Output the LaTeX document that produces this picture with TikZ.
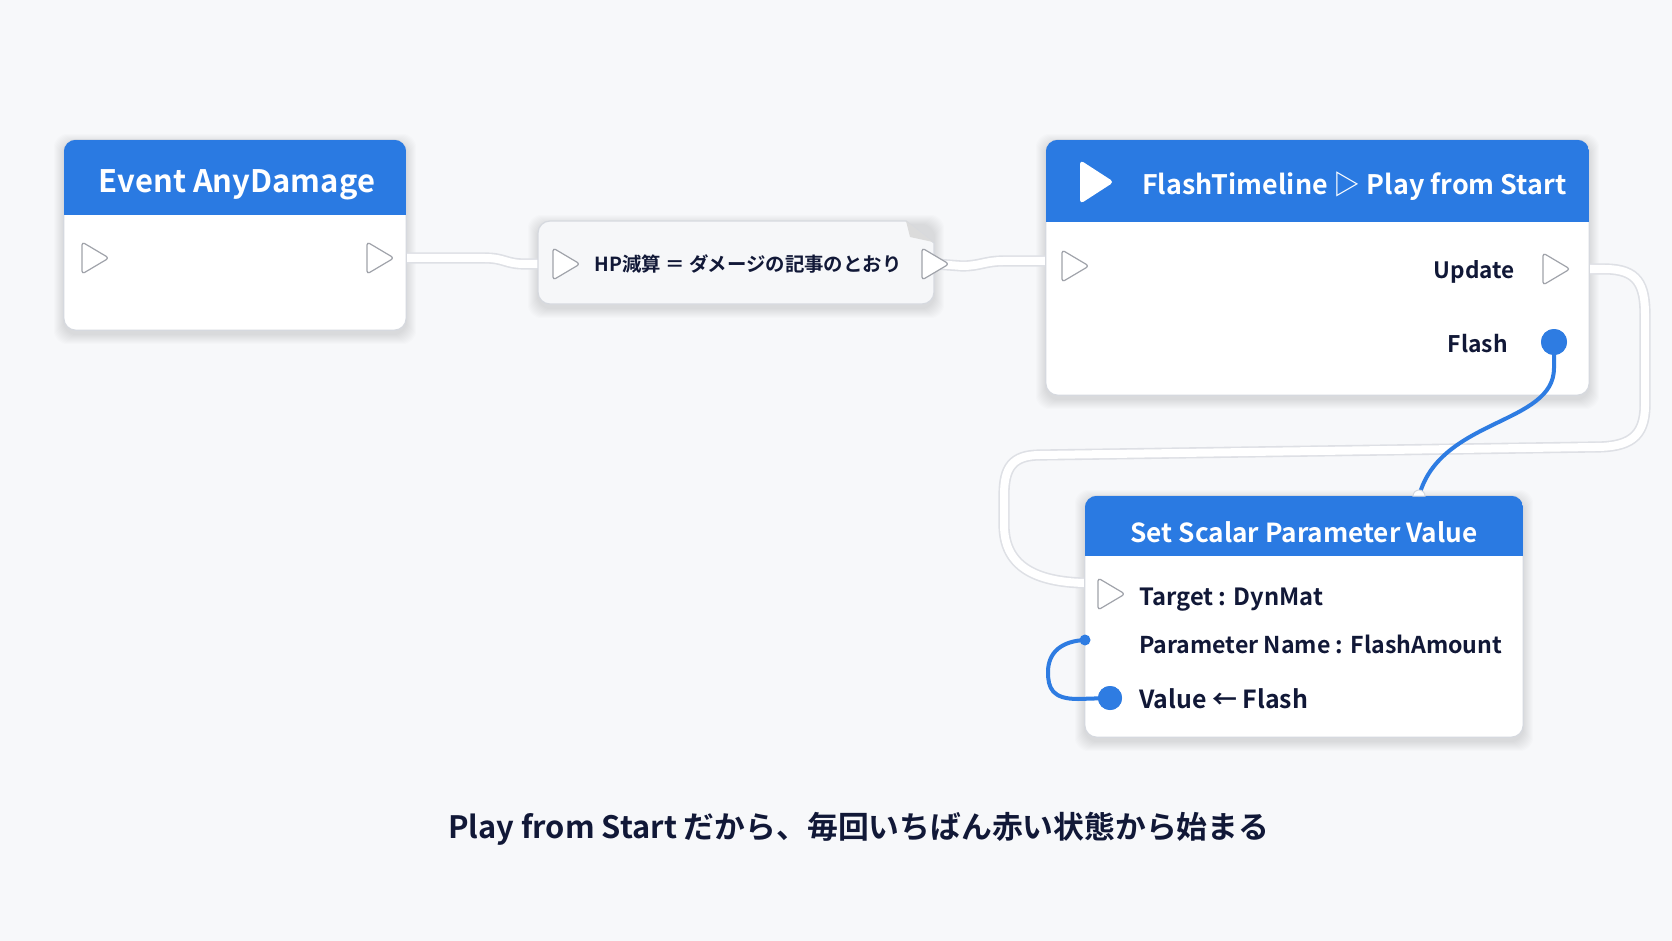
\documentclass[tikz,border=0pt]{standalone}
\usepackage{fontspec}
\setmainfont{Noto Sans CJK JP}[BoldFont={Noto Sans CJK JP Bold}]
\usepackage{graphicx}
\usetikzlibrary{calc,fit}
\definecolor{bgc}{RGB}{247,248,250}
\definecolor{hblue}{RGB}{42,122,226}
\definecolor{wblue}{RGB}{46,124,226}
\definecolor{ink}{RGB}{17,24,55}
\definecolor{edge}{RGB}{214,217,223}
\definecolor{wedge}{RGB}{222,224,229}
\definecolor{pinedge}{RGB}{160,163,170}
\definecolor{hpfill}{RGB}{246,247,249}
\pgfdeclarelayer{bg}\pgfdeclarelayer{fg}\pgfsetlayers{bg,main,fg}
\tikzset{
 cardfill/.style={fill=white, rounded corners=12pt},
 cardedge/.style={draw=edge, line width=1.2pt, rounded corners=12pt},
 hdrtext/.style={text=white, font=\bfseries, inner sep=0pt},
 rowtext/.style={text=ink, font=\bfseries, inner sep=0pt},
 execwire/.style={draw=wedge, line width=1.6pt, double=white, double distance=8pt, line cap=round},
 datawire/.style={draw=wblue, line width=4pt, line cap=round},
 datapin/.style={circle, fill=wblue, inner sep=0pt},
 execpin/.pic={\draw[draw=pinedge, fill=white, line width=1.2pt, rounded corners=3pt, line join=round] (-13,-16) -- (14,0) -- (-13,16) -- cycle;},
 shadowpart/.style={fill=black, opacity=0.012, rounded corners=14pt},
}
\newcommand\softshadow[1]{%
 \begin{pgfonlayer}{bg}
 \foreach \i in {1,...,10}{\fill[shadowpart] ($(#1.north west)+(-\i,-\i+4)$) rectangle ($(#1.south east)+(\i,\i+4)$);}
 \end{pgfonlayer}}
\begin{document}
\begin{tikzpicture}[x=1pt,y=-1pt]
\useasboundingbox (0,0) rectangle (1672,941);
\begin{pgfonlayer}{bg}
\fill[bgc] (0,0) rectangle (1672,941);
\end{pgfonlayer}

% ---------- cards (named areas) ----------
\node[fit={(64,140) (406,330)}, inner sep=0pt] (ev) {};
\node[fit={(538,221) (934,304)}, inner sep=0pt] (hp) {};
\node[fit={(1046,140) (1589,395)}, inner sep=0pt] (fl) {};
\node[fit={(1085,496) (1523,737)}, inner sep=0pt] (ss) {};

% ---------- pins ----------
\coordinate (ev-in) at (95,258);
\coordinate (ev-out) at (380,258);
\coordinate (hp-in) at (566,264);
\coordinate (hp-out) at (935,264);
\coordinate (fl-in) at (1075,266);
\coordinate (fl-upd) at (1556,269);
\coordinate (ss-tgt) at (1111,594);
\coordinate (ss-pn) at (1085,640);
\coordinate (ss-top) at (1419,496);

\softshadow{ev}\softshadow{hp}\softshadow{fl}\softshadow{ss}

% ---------- exec wires (behind cards) ----------
\begin{pgfonlayer}{bg}
\draw[execwire] (ev-out) -- (485,258) .. controls (505,258) and (505,264) .. (525,264) -- (hp-in);
\draw[execwire] (hp-out) -- (962,266) .. controls (980,266) and (985,261) .. (1003,261) -- (1060,261) -- (fl-in);
\draw[execwire] (fl-upd) -- (1605,269) .. controls (1638,269) and (1645,285) .. (1645,315)
  -- (1645,405) .. controls (1645,438) and (1628,447) .. (1595,447)
  -- (1040,455) .. controls (1012,455) and (1004,468) .. (1004,495)
  -- (1004,525) .. controls (1004,566) and (1035,582) .. (1085,583) -- (ss-tgt);
\end{pgfonlayer}

% ---------- Event AnyDamage ----------
\fill[cardfill] (ev.north west) rectangle (ev.south east);
\draw[cardedge] (ev.north west) rectangle (ev.south east);
\begin{scope}
\clip[rounded corners=12pt] (ev.north west) rectangle (ev.south east);
\fill[hblue] (ev.north west) rectangle (406,215);
\end{scope}
\node[hdrtext, anchor=base] (ev-title) at (237,193) {\resizebox{276pt}{!}{Event AnyDamage}};
\pic at (ev-in) {execpin};
\pic at (ev-out) {execpin};

% ---------- HP note ----------
\draw[draw=edge, line width=1.2pt, fill=hpfill] (906,221) -- (934,243) -- (934,292) arc (0:-90:12pt)
  -- (550,304) arc (-90:-180:12pt) -- (538,233) arc (180:90:12pt) -- cycle;
\fill[gray!28] (906,221) -- (933,242) -- (910,237) -- cycle;
\node[rowtext, anchor=base] (hp-text) at (748,272) {\resizebox{307pt}{!}{HP減算 ＝ ダメージの記事のとおり}};
\pic at (hp-in) {execpin};
\pic at (hp-out) {execpin};

% ---------- FlashTimeline ----------
\fill[cardfill] (fl.north west) rectangle (fl.south east);
\draw[cardedge] (fl.north west) rectangle (fl.south east);
\begin{scope}
\clip[rounded corners=12pt] (fl.north west) rectangle (fl.south east);
\fill[hblue] (fl.north west) rectangle (1589,222);
\end{scope}
\fill[white, rounded corners=4pt] (1080,160) -- (1114,182) -- (1080,204) -- cycle;
\node[hdrtext, anchor=base west] (fl-title) at (1142,195) {\resizebox{424pt}{!}{FlashTimeline ▷ Play from Start}};
\node[rowtext, anchor=base east] (fl-upd-l) at (1515,278) {\resizebox{81pt}{!}{Update}};
\node[rowtext, anchor=base east] (fl-fl-l) at (1508,352) {\resizebox{60pt}{!}{Flash}};
\pic at (fl-in) {execpin};
\pic at (fl-upd) {execpin};

% ---------- Set Scalar Parameter Value ----------
\fill[cardfill] (ss.north west) rectangle (ss.south east);
\draw[cardedge] (ss.north west) rectangle (ss.south east);
\begin{scope}
\clip[rounded corners=12pt] (ss.north west) rectangle (ss.south east);
\fill[hblue] (ss.north west) rectangle (1523,556);
\end{scope}
\node[hdrtext, anchor=base] (ss-title) at (1304,542) {\resizebox{347pt}{!}{Set Scalar Parameter Value}};
\node[rowtext, anchor=base west] (ss-r1) at (1139,605) {\resizebox{184pt}{!}{Target : DynMat}};
\node[rowtext, anchor=base west] (ss-r2) at (1139,653) {\resizebox{363pt}{!}{Parameter Name : FlashAmount}};
\node[rowtext, anchor=base west] (ss-r3) at (1139,708) {\resizebox{169pt}{!}{Value ← Flash}};
\pic at (ss-tgt) {execpin};

% ---------- data wires (in front) ----------
\begin{pgfonlayer}{fg}
\node[datapin, minimum size=26pt] (fl-flash) at (1554,342) {};
\node[datapin, minimum size=24pt] (ss-val) at (1110,698) {};
\draw[datawire] (fl-flash.center) -- (1554,368) .. controls (1554,425) and (1440,418) .. (ss-top);
\draw[draw=edge, fill=white, line width=1pt] ([xshift=-6pt]ss-top) arc (180:0:6pt) -- cycle;
\draw[datawire] (ss-val.center) -- (1078,699) .. controls (1052,699) and (1048,688) .. (1048,672)
  .. controls (1048,652) and (1062,641) .. (ss-pn);
\fill[wblue] (ss-pn) circle (5.5pt);
\node[datapin, minimum size=26pt] at (fl-flash) {};
\node[datapin, minimum size=24pt] at (ss-val) {};
\end{pgfonlayer}

% ---------- caption ----------
\node[rowtext, anchor=base west] (cap) at (448,838) {\resizebox{821pt}{!}{Play from Start だから、毎回いちばん赤い状態から始まる}};
\end{tikzpicture}
\end{document}
